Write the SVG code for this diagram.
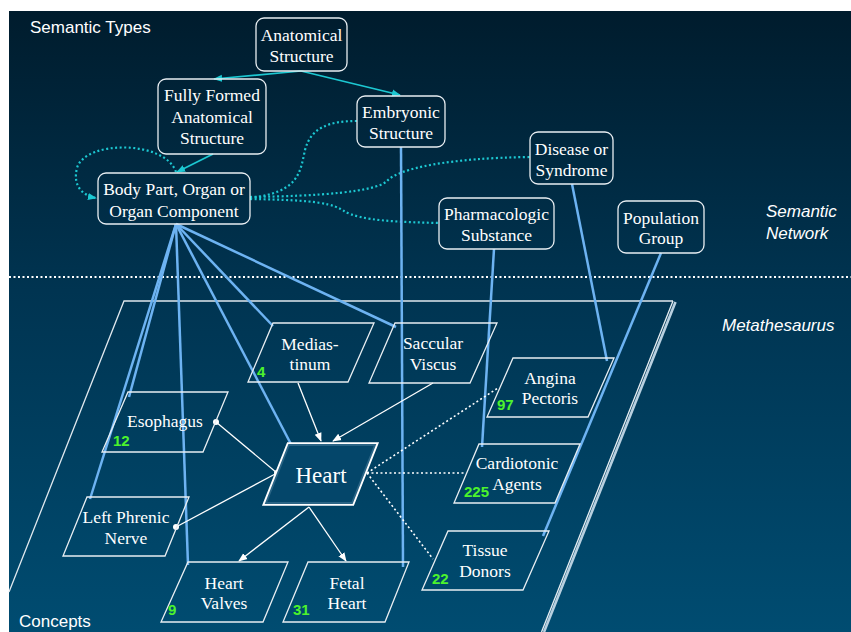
<svg xmlns="http://www.w3.org/2000/svg" width="851" height="632" viewBox="0 0 851 632">
<defs>
<linearGradient id="bg" x1="0" y1="0" x2="0" y2="1">
<stop offset="0" stop-color="#001c2d"/>
<stop offset="0.45" stop-color="#003451"/>
<stop offset="1" stop-color="#004c71"/>
</linearGradient>
<marker id="arrC" viewBox="0 0 10 10" refX="9" refY="5" markerWidth="9" markerHeight="9" markerUnits="userSpaceOnUse" orient="auto">
<path d="M0,1 L10,5 L0,9 z" fill="#1cc8d2"/>
</marker>
<marker id="arrW" viewBox="0 0 10 10" refX="9" refY="5" markerWidth="9" markerHeight="9" markerUnits="userSpaceOnUse" orient="auto">
<path d="M0,1 L10,5 L0,9 z" fill="#ffffff"/>
</marker>
<style>
.lbl{font-family:'Liberation Sans',Arial,sans-serif;font-size:17px;fill:#ffffff}
.ital{font-family:'Liberation Sans',Arial,sans-serif;font-size:17px;font-style:italic;fill:#ffffff}
.nt{font-family:'Liberation Serif','Times New Roman',serif;font-size:17.5px;fill:#ffffff;text-anchor:middle}
.num{font-family:'Liberation Sans',Arial,sans-serif;font-size:15px;font-weight:bold;fill:#4cf32c}
.box{fill:none;stroke:#e8eef2;stroke-width:1.3}
.con{fill:none;stroke:#e8eef2;stroke-width:1.3}
.cy{fill:none;stroke:#1cc8d2;stroke-width:1.6}
.cyd{fill:none;stroke:#1cc8d2;stroke-width:2.2;stroke-dasharray:2,2.5}
.bl{fill:none;stroke:#6db3f2;stroke-width:2.5}
.wl{fill:none;stroke:#ffffff;stroke-width:1.3}
.wd{fill:none;stroke:#ffffff;stroke-width:1.6;stroke-dasharray:2,2.5}
</style>
</defs>
<rect x="0" y="0" width="851" height="632" fill="#ffffff"/>
<rect x="9" y="11" width="842" height="621" fill="url(#bg)"/>

<g id="frame">
<line x1="9" y1="277" x2="851" y2="277" stroke="#ffffff" stroke-width="2" stroke-dasharray="2,2.5"/>
<polyline points="9,592 124,301 673,301" fill="none" stroke="#dfe8ee" stroke-width="1.3"/>
<line x1="675.5" y1="302" x2="544" y2="632" stroke="#b8d0e0" stroke-width="2.6"/>
<line x1="673" y1="301" x2="541.5" y2="632" stroke="#e8eef2" stroke-width="1.3"/>
<text class="lbl" x="30" y="33">Semantic Types</text>
<text class="ital" x="766" y="217">Semantic</text>
<text class="ital" x="766" y="239">Network</text>
<text class="ital" x="722" y="331">Metathesaurus</text>
<text class="lbl" x="19" y="627">Concepts</text>
</g>

<g id="connectors">
<line class="cy" x1="301" y1="71" x2="214" y2="79" marker-end="url(#arrC)"/>
<line class="cy" x1="301" y1="71" x2="400" y2="95" marker-end="url(#arrC)"/>
<line class="cy" x1="213" y1="154" x2="177" y2="172" marker-end="url(#arrC)"/>
<path class="cyd" d="M176,172 C165,140 85,140 77,168 C72,188 85,196 96,198" marker-end="url(#arrC)"/>
<path class="cyd" d="M250,198 C300,192 300,172 305,150 C311,127 330,121 357,121"/>
<path class="cyd" d="M250,197 C320,196 375,192 387,181 C399,168 450,158 530,157"/>
<path class="cyd" d="M250,199 C320,200 333,204 344,211 C360,221 400,222 439,223"/>

<line class="bl" x1="176" y1="224" x2="90" y2="499"/>
<line class="bl" x1="176" y1="224" x2="129" y2="397"/>
<line class="bl" x1="176" y1="224" x2="188" y2="565"/>
<line class="bl" x1="176" y1="224" x2="293" y2="448"/>
<line class="bl" x1="176" y1="224" x2="273" y2="326"/>
<line class="bl" x1="176" y1="224" x2="396" y2="327"/>
<line class="bl" x1="401" y1="147" x2="403" y2="567"/>
<line class="bl" x1="494" y1="249" x2="482" y2="447"/>
<line class="bl" x1="572" y1="184" x2="607" y2="361"/>
<line class="bl" x1="661" y1="253" x2="543" y2="536"/>

<line class="wl" x1="298" y1="383" x2="321" y2="441" marker-end="url(#arrW)"/>
<line class="wl" x1="433" y1="383" x2="333" y2="441" marker-end="url(#arrW)"/>
<line class="wl" x1="216" y1="422" x2="277" y2="473"/>
<line class="wl" x1="176" y1="527" x2="277" y2="473"/>
<circle cx="216" cy="422" r="3" fill="#ffffff"/>
<circle cx="277" cy="473" r="3" fill="#ffffff"/>
<circle cx="176" cy="527" r="3" fill="#ffffff"/>
<line class="wl" x1="309" y1="507" x2="239" y2="561" marker-end="url(#arrW)"/>
<line class="wl" x1="309" y1="507" x2="346" y2="561" marker-end="url(#arrW)"/>
<line class="wd" x1="367" y1="473" x2="498" y2="388"/>
<line class="wd" x1="367" y1="473" x2="466" y2="473"/>
<line class="wd" x1="367" y1="473" x2="433" y2="559"/>
</g>

<g id="n-anatomical">
<rect class="box" x="256" y="18" width="91" height="53" rx="8"/>
<text class="nt" x="301.5" y="41">Anatomical</text>
<text class="nt" x="301.5" y="62">Structure</text>
</g>
<g id="n-fullyformed">
<rect class="box" x="158" y="79" width="108" height="75" rx="8"/>
<text class="nt" x="212" y="101">Fully Formed</text>
<text class="nt" x="212" y="123">Anatomical</text>
<text class="nt" x="212" y="144">Structure</text>
</g>
<g id="n-embryonic">
<rect class="box" x="357" y="96" width="88" height="51" rx="8"/>
<text class="nt" x="401" y="118">Embryonic</text>
<text class="nt" x="401" y="139">Structure</text>
</g>
<g id="n-bodypart">
<rect class="box" x="98" y="173" width="152" height="51" rx="8"/>
<text class="nt" x="174" y="195">Body Part, Organ or</text>
<text class="nt" x="174" y="217">Organ Component</text>
</g>
<g id="n-disease">
<rect class="box" x="530" y="132" width="83" height="52" rx="8"/>
<text class="nt" x="571.5" y="155">Disease or</text>
<text class="nt" x="571.5" y="176">Syndrome</text>
</g>
<g id="n-pharma">
<rect class="box" x="439" y="198" width="115" height="51" rx="8"/>
<text class="nt" x="496.5" y="220">Pharmacologic</text>
<text class="nt" x="496.5" y="241">Substance</text>
</g>
<g id="n-population">
<rect class="box" x="618" y="201" width="86" height="52" rx="8"/>
<text class="nt" x="661" y="224">Population</text>
<text class="nt" x="661" y="244">Group</text>
</g>

<g id="c-mediastinum">
<polygon class="con" points="273,323 374,323 348,382 248,382"/>
<text class="nt" x="310" y="350">Medias-</text>
<text class="nt" x="310" y="370">tinum</text>
<text class="num" x="257" y="377">4</text>
</g>
<g id="c-saccular">
<polygon class="con" points="395,323 497,323 470,383 369,383"/>
<text class="nt" x="433" y="349">Saccular</text>
<text class="nt" x="433" y="370">Viscus</text>
</g>
<g id="c-esophagus">
<polygon class="con" points="128,392 228,392 203,452 102,452"/>
<text class="nt" x="165" y="427">Esophagus</text>
<text class="num" x="113" y="446">12</text>
</g>
<g id="c-phrenic">
<polygon class="con" points="87,497 189,497 165,556 63,556"/>
<text class="nt" x="126" y="523">Left Phrenic</text>
<text class="nt" x="126" y="544">Nerve</text>
</g>
<g id="c-heart">
<polygon points="289,445 375,445 352,503 266,503" fill="none" stroke="#ffffff" stroke-width="5.5"/>
<polygon points="289,445 375,445 352,503 266,503" fill="#04466a" stroke="#2a6485" stroke-width="1.8"/>
<text x="321" y="483" font-family="'Liberation Serif','Times New Roman',serif" font-size="23" fill="#ffffff" text-anchor="middle">Heart</text>
</g>
<g id="c-heartvalves">
<polygon class="con" points="188,562 288,562 263,622 161,622"/>
<text class="nt" x="224" y="589">Heart</text>
<text class="nt" x="224" y="609">Valves</text>
<text class="num" x="168" y="615">9</text>
</g>
<g id="c-fetalheart">
<polygon class="con" points="308,562 409,562 385,622 283,622"/>
<text class="nt" x="347" y="589">Fetal</text>
<text class="nt" x="347" y="609">Heart</text>
<text class="num" x="293" y="615">31</text>
</g>
<g id="c-angina">
<polygon class="con" points="513,358 614,358 588,417 487,417"/>
<text class="nt" x="550" y="384">Angina</text>
<text class="nt" x="550" y="404">Pectoris</text>
<text class="num" x="497" y="410">97</text>
</g>
<g id="c-cardiotonic">
<polygon class="con" points="479,444 580,444 555,503 454,503"/>
<text class="nt" x="517" y="469">Cardiotonic</text>
<text class="nt" x="517" y="490">Agents</text>
<text class="num" x="464" y="497">225</text>
</g>
<g id="c-tissue">
<polygon class="con" points="448,531 549,531 523,590 422,590"/>
<text class="nt" x="485" y="556">Tissue</text>
<text class="nt" x="485" y="577">Donors</text>
<text class="num" x="432" y="584">22</text>
</g>
</svg>
